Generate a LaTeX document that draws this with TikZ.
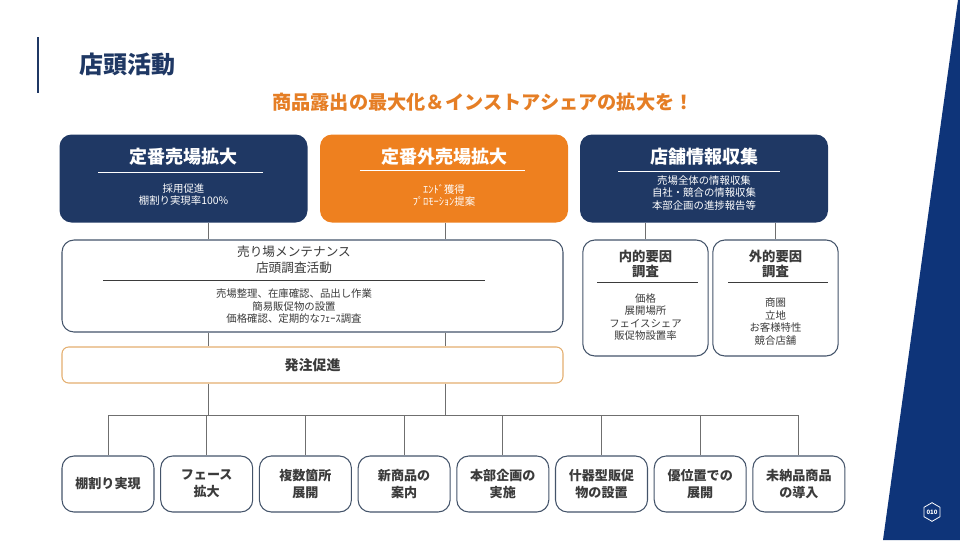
\documentclass[tikz,border=0pt]{standalone}
\usepackage{fontspec}
\setmainfont{Noto Sans CJK JP}
\usepackage{xcolor}
\usetikzlibrary{shapes.geometric}
\definecolor{navy}{HTML}{1F3864}
\definecolor{deepblue}{HTML}{0E3479}
\definecolor{boxorange}{HTML}{EE801F}
\definecolor{headorange}{HTML}{E57E25}
\definecolor{slate}{HTML}{44546A}
\definecolor{tan}{HTML}{E3AE6F}
\definecolor{wire}{HTML}{6F6F6F}
\definecolor{ink}{HTML}{3B3B3B}

\begin{document}
\begin{tikzpicture}[x=0.75pt,y=-0.75pt,
  headbox/.style={rounded corners=9pt,minimum width=186pt,minimum height=66pt},
  pagebox/.style={draw=slate,line width=0.8pt,rounded corners=9pt,fill=white},
  headtitle/.style={text=white,font=\fontsize{13.5}{15}\selectfont\bfseries},
  headtext/.style={text=white,align=center,font=\fontsize{7.8}{9.2}\selectfont},
  bodytext/.style={text=ink,align=center,font=\fontsize{7.8}{9.4}\selectfont},
  actbox/.style={pagebox,minimum width=69pt,minimum height=42pt,align=center,
    text=ink,font=\fontsize{9.8}{12.6}\selectfont\bfseries},
  wireline/.style={draw=wire,line width=0.7pt}]
\useasboundingbox (0,0) rectangle (960,540);
% page frame
\fill[deepblue] (958,0) -- (960,0) -- (960,540) -- (883,540) -- cycle;
\draw[navy,line width=1.2pt] (38,37) -- (38,93);
\node[anchor=west,text=navy,font=\fontsize{18}{20}\selectfont\bfseries] (title) at (75,64) {店頭活動};
\node[text=headorange,font=\fontsize{14.4}{16}\selectfont\bfseries] (slogan) at (483,102)
  {商品露出の最大化＆インストアシェアの拡大を！};
\node[draw=white,line width=0.6pt,regular polygon,regular polygon sides=6,shape border rotate=30,
  minimum size=14pt,inner sep=0pt,text=white,font=\fontsize{4.5}{5}\selectfont\bfseries] (pageno) at (932,512) {010};

% top row
\node[headbox,fill=navy] (std) at (183.5,178.5) {};
\node[headtitle] (stdT) at (183.5,157) {定番売場拡大};
\draw[white,line width=0.6pt] (98,172) -- (263,172);
\node[headtext] (stdS) at (183.5,194.5) {採用促進\\棚割り実現率100\%};

\node[headbox,fill=boxorange] (ext) at (444,178.5) {};
\node[headtitle] (extT) at (444,157) {定番外売場拡大};
\draw[white,line width=0.6pt] (360,170) -- (525,170);
\node[headtext] (extS) at (444,195.5) {ｴﾝﾄﾞ獲得\\ﾌﾟﾛﾓｰｼｮﾝ提案};

\node[headbox,fill=navy] (info) at (704,178.5) {};
\node[headtitle] (infoT) at (704,157) {店舗情報収集};
\draw[white,line width=0.6pt] (618,171) -- (780,171);
\node[headtext] (infoS) at (704,193) {売場全体の情報収集\\自社・競合の情報収集\\本部企画の進捗報告等};

% middle row
\node[pagebox,minimum width=375.75pt,minimum height=69pt] (mnt) at (312.5,286) {};
\node[bodytext,font=\fontsize{9.5}{12}\selectfont] (mntT) at (294,260) {売り場メンテナンス\\店頭調査活動};
\draw[ink,line width=0.6pt] (103,280) -- (485,280);
\node[bodytext] (mntS) at (294,306.5) {売場整理、在庫確認、品出し作業\\簡易販促物の設置\\価格確認、定期的なﾌｪｰｽ調査};

\node[draw=tan,line width=0.8pt,rounded corners=5pt,minimum width=375.75pt,minimum height=27pt,
  text=ink,font=\fontsize{10.5}{12}\selectfont\bfseries] (order) at (312.5,365) {発注促進};

\node[pagebox,minimum width=94pt,minimum height=87pt] (inner) at (645.5,298) {};
\node[bodytext,font=\fontsize{10}{10.6}\selectfont\bfseries] (innerT) at (645.5,264) {内的要因\\調査};
\draw[ink,line width=0.6pt] (597,282) -- (698,282);
\node[bodytext] (innerS) at (645.5,317) {価格\\展開場所\\フェイスシェア\\販促物設置率};

\node[pagebox,minimum width=94pt,minimum height=87pt] (outer) at (775.5,298) {};
\node[bodytext,font=\fontsize{10}{10.6}\selectfont\bfseries] (outerT) at (775.5,264) {外的要因\\調査};
\draw[ink,line width=0.6pt] (728,282) -- (828,282);
\node[bodytext] (outerS) at (775.5,321.5) {商圏\\立地\\お客様特性\\競合店舗};

% bottom row
\foreach \lbl [count=\i] in {棚割り実現,フェース\\拡大,複数箇所\\展開,新商品の\\案内,
    本部企画の\\実施,什器型販促\\物の設置,優位置での\\展開,未納品商品\\の導入}
  \node[actbox] (act\i) at ({108+(\i-1)*98.7},484) {\lbl};

% connectors
\coordinate (colA) at (208,415);
\coordinate (colB) at (445,415);
\draw[wireline] (std.south -| colA) -- (mnt.north -| colA);
\draw[wireline] (ext.south -| colB) -- (mnt.north -| colB);
\draw[wireline] (mnt.south -| colA) -- (order.north -| colA);
\draw[wireline] (mnt.south -| colB) -- (order.north -| colB);
\draw[wireline] (order.south -| colA) -- (colA);
\draw[wireline] (order.south -| colB) -- (colB);
\draw[wireline] (info.south -| inner.north) -- (inner.north);
\draw[wireline] (info.south -| outer.north) -- (outer.north);
\draw[wireline] (act1.north |- colA) -- (act8.north |- colA);
\foreach \i in {1,...,8}
  \draw[wireline] (act\i.north |- colA) -- (act\i.north);
\end{tikzpicture}
\end{document}
